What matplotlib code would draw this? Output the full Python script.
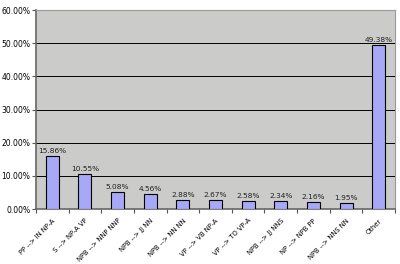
import matplotlib
matplotlib.use("Agg")
import matplotlib.pyplot as plt
import numpy as np
from matplotlib.ticker import FuncFormatter, FixedLocator

categories = ["PP --> IN NP-A", "S --> NP-A VP", "NPB --> NNP NNP", "NPB --> JJ NN",
              "NPB --> NN NN", "VP --> VB NP-A", "VP --> TO VP-A", "NPB --> JJ NNS",
              "NP --> NPB PP", "NPB --> NNS NN", "Other"]
values = [15.86, 10.55, 5.08, 4.56, 2.88, 2.67, 2.58, 2.34, 2.16, 1.95, 49.38]

fig = plt.figure(figsize=(4, 2.64), dpi=100)
ax = fig.add_axes([0.09, 0.208, 0.8975, 0.754])
ax.set_facecolor("#CBCCC9")
x = np.arange(len(categories))
ax.bar(x, values, width=0.4, color="#A8A8F8", edgecolor="black", linewidth=0.8, zorder=3)
for xi, v in zip(x, values):
    ax.text(xi, v + 0.6, f"{v:.2f}%", ha="center", va="bottom", fontsize=5.3, color="#222222")
ax.set_xlim(-0.5, len(categories) - 0.5)
ax.set_ylim(0, 60)
ax.set_yticks(np.arange(0, 61, 10))
ax.yaxis.set_major_formatter(FuncFormatter(lambda v, p: f"{v:.2f}%"))
ax.yaxis.grid(True, color="black", linewidth=0.7, zorder=1)
ax.set_xticks(x)
ax.set_xticklabels(categories, rotation=45, ha="right", rotation_mode="anchor", fontsize=4.9)
ax.tick_params(axis="x", length=0, pad=6)
ax.xaxis.set_minor_locator(FixedLocator(np.arange(-0.5, len(categories), 1)))
ax.tick_params(axis="x", which="minor", length=3, width=0.8, color="#555555")
ax.tick_params(axis="y", labelsize=5.5, length=3, width=0.8, color="#555555", pad=1)
ax.spines["left"].set_color("#666666")
ax.spines["left"].set_linewidth(1.2)
ax.spines["bottom"].set_color("#666666")
ax.spines["bottom"].set_linewidth(1.2)
ax.spines["top"].set_color("#999999")
ax.spines["right"].set_color("#999999")
ax.spines["top"].set_linewidth(0.8)
ax.spines["right"].set_linewidth(0.8)
fig.savefig("out.png", dpi=100)
